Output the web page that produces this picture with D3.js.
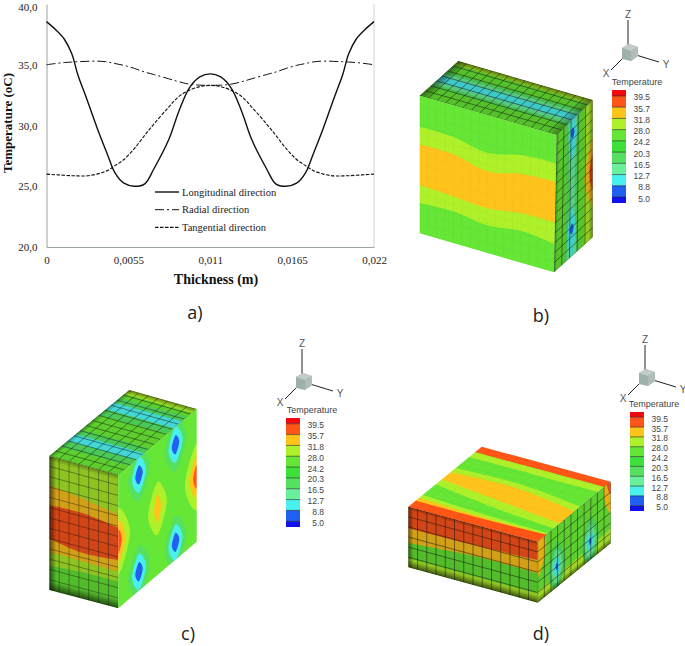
<!DOCTYPE html>
<html>
<head>
<meta charset="utf-8">
<script src="https://cdn.jsdelivr.net/npm/d3@7/dist/d3.min.js"></script>
<style>
	body { margin: 0; background: #fff; }
	svg { display: block; }
</style>
</head>
<body>
<div id="chart"></div>
<script>
// line chart values
var thickness = [0, 0.0006, 0.0012, 0.0017, 0.0021, 0.0027, 0.0034, 0.0041, 0.0046, 0.0052, 0.0059, 0.0066, 0.0072, 0.0082, 0.0089, 0.0096, 0.0103, 0.011, 0.0117, 0.0124, 0.0131, 0.0138, 0.0148, 0.0154, 0.0161, 0.0168, 0.0174, 0.0179, 0.0186, 0.0193, 0.0199, 0.0203, 0.0208, 0.0214, 0.022];
var longitudinal = [38.55, 37.9, 37.1, 35.9, 34.2, 32.2, 29.8, 27.6, 26.1, 25.25, 25, 25.2, 26.4, 28.8, 31.2, 33.1, 34, 34.25, 34, 33.1, 31.2, 28.8, 26.4, 25.2, 25, 25.25, 26.1, 27.6, 29.8, 32.2, 34.2, 35.9, 37.1, 37.9, 38.55];
var radial = [35, 35.1, 35.18, 35.22, 35.25, 35.28, 35.3, 35.23, 35.1, 34.95, 34.7, 34.4, 34.2, 33.85, 33.6, 33.4, 33.32, 33.3, 33.32, 33.4, 33.6, 33.85, 34.2, 34.4, 34.7, 34.95, 35.1, 35.23, 35.3, 35.28, 35.25, 35.22, 35.18, 35.1, 35];
var tangential = [26, 25.95, 25.9, 25.87, 25.85, 25.85, 26, 26.3, 26.7, 27.2, 28.1, 29.2, 30.1, 31.5, 32.4, 32.9, 33.2, 33.3, 33.2, 32.9, 32.4, 31.5, 30.1, 29.2, 28.1, 27.2, 26.7, 26.3, 26, 25.85, 25.85, 25.87, 25.9, 25.95, 26];
var xTicks = [0, 0.0055, 0.011, 0.0165, 0.022];
var xTickLabels = ["0", "0,0055", "0,011", "0,0165", "0,022"];
var yTicks = [20, 25, 30, 35, 40];
var lineNames = ["Longitudinal direction", "Radial direction", "Tangential direction"];

// colour legend
var legendLevels = [39.5, 35.7, 31.8, 28.0, 24.2, 20.3, 16.5, 12.7, 8.8, 5.0];
var legendTemps = [41, 37, 33, 30, 26, 22, 18, 14.6, 10.7, 7, 4];
var bandColors = ["#1010f0", "#2060f0", "#4af0ee", "#68f09a", "#55e060", "#3ee03a", "#66e634", "#aef02a", "#ffc41a", "#ff5518", "#f00a10"];

// temperature bands on the box faces, edges read as fractions of the face
var bFrontStripes = [
	{ t: 30, top: [0.225, 0.228, 0.274, 0.216, 0.206], bot: [0.782, 0.77, 0.8, 0.77, 0.8] },
	{ t: 33, top: [0.354, 0.354, 0.408, 0.354, 0.34], bot: [0.649, 0.66, 0.675, 0.64, 0.638] }
];
var bTopStripes = [
	{ t: 30, top: [0, 0, 0], bot: [0.1, 0.1, 0.1] },
	{ t: 18, top: [0.3, 0.3, 0.3], bot: [0.72, 0.72, 0.72] },
	{ t: 14.6, top: [0.36, 0.36, 0.36], bot: [0.66, 0.66, 0.66] },
	{ t: 10.7, top: [0.43, 0.43, 0.43], bot: [0.58, 0.58, 0.58] }
];
var bRightStripes = [
	{ t: 30, vertical: true, top: [0.78, 0.78, 0.78], bot: [1, 1, 1] },
	{ t: 18, vertical: true, top: [0.26, 0.3, 0.26], bot: [0.64, 0.6, 0.64] },
	{ t: 14.6, vertical: true, top: [0.32, 0.38, 0.32], bot: [0.58, 0.52, 0.58] }
];
var bRightBlobs = [
	{ t: 10.7, u: 0.45, v: 0.12, ru: 0.11, rv: 0.18 },
	{ t: 10.7, u: 0.45, v: 0.82, ru: 0.11, rv: 0.18 },
	{ t: 7, u: 0.45, v: 0.1, ru: 0.05, rv: 0.04 },
	{ t: 7, u: 0.45, v: 0.8, ru: 0.05, rv: 0.04 },
	{ t: 33, u: 1, v: 0.52, ru: 0.22, rv: 0.24 },
	{ t: 37, u: 1, v: 0.52, ru: 0.09, rv: 0.13 }
];
var cFrontStripes = [
	{ t: 26, top: [0.82, 0.8, 0.8], bot: [1, 1, 1] },
	{ t: 33, top: [0.216, 0.25, 0.3], bot: [0.714, 0.72, 0.725] },
	{ t: 37, top: [0.366, 0.36, 0.4], bot: [0.614, 0.657, 0.637] }
];
var cTopStripes = [
	{ t: 30, top: [0, 0, 0], bot: [0.06, 0.06, 0.06] },
	{ t: 18, top: [0.12, 0.12, 0.12], bot: [0.38, 0.38, 0.38] },
	{ t: 10.7, top: [0.19, 0.19, 0.19], bot: [0.29, 0.29, 0.29] },
	{ t: 18, top: [0.6, 0.6, 0.6], bot: [0.86, 0.86, 0.86] },
	{ t: 10.7, top: [0.67, 0.67, 0.67], bot: [0.77, 0.77, 0.77] }
];
var cRightBlobs = [
	{ t: 30, u: 0.5, v: 0.5, ru: 0.12, rv: 0.2 },
	{ t: 33, u: 0.5, v: 0.5, ru: 0.045, rv: 0.105 },
	{ t: 30, u: 1, v: 0.51, ru: 0.15, rv: 0.25 },
	{ t: 33, u: 1, v: 0.51, ru: 0.09, rv: 0.16 },
	{ t: 37, u: 1, v: 0.51, ru: 0.045, rv: 0.09 },
	{ t: 30, u: 0, v: 0.5, ru: 0.15, rv: 0.25 },
	{ t: 33, u: 0, v: 0.5, ru: 0.09, rv: 0.16 },
	{ t: 37, u: 0, v: 0.5, ru: 0.045, rv: 0.09 },
	{ t: 18, u: 0.264, v: 0.13, ru: 0.14, rv: 0.2 },
	{ t: 18, u: 0.73, v: 0.135, ru: 0.14, rv: 0.2 },
	{ t: 18, u: 0.264, v: 0.858, ru: 0.14, rv: 0.2 },
	{ t: 18, u: 0.73, v: 0.87, ru: 0.14, rv: 0.2 },
	{ t: 10.7, u: 0.264, v: 0.13, ru: 0.09, rv: 0.135 },
	{ t: 10.7, u: 0.73, v: 0.135, ru: 0.09, rv: 0.135 },
	{ t: 10.7, u: 0.264, v: 0.858, ru: 0.09, rv: 0.135 },
	{ t: 10.7, u: 0.73, v: 0.87, ru: 0.09, rv: 0.135 },
	{ t: 7, u: 0.264, v: 0.13, ru: 0.048, rv: 0.072 },
	{ t: 7, u: 0.73, v: 0.135, ru: 0.048, rv: 0.072 },
	{ t: 7, u: 0.264, v: 0.858, ru: 0.048, rv: 0.072 },
	{ t: 7, u: 0.73, v: 0.87, ru: 0.048, rv: 0.072 }
];
var dTopStripes = [
	{ t: 37, top: [0, 0, 0], bot: [0.09, 0.09, 0.09] },
	{ t: 30, top: [0.09, 0.09, 0.09], bot: [0.17, 0.17, 0.17] },
	{ t: 30, top: [0.36, 0.34, 0.42], bot: [0.62, 0.72, 0.78] },
	{ t: 33, top: [0.43, 0.4, 0.5], bot: [0.54, 0.62, 0.7] },
	{ t: 30, top: [0.8, 0.84, 0.86], bot: [1, 1, 1] },
	{ t: 33, top: [0.85, 0.88, 0.88], bot: [1, 1, 1] },
	{ t: 37, top: [0.9, 0.9, 0.88], bot: [1, 1, 1] }
];
var dFrontStripes = [
	{ t: 30, top: [0.85, 0.85, 0.85], bot: [1, 1, 1] },
	{ t: 33, top: [0, 0, 0], bot: [0.6, 0.52, 0.52] },
	{ t: 37, top: [0, 0, 0], bot: [0.357, 0.34, 0.3] }
];
var dRightStripes = [
	{ t: 30, top: [0.82, 0.8, 0.76], bot: [1, 1, 1] }
];
var dRightBlobs = [
	{ t: 33, u: 0, v: 0.15, ru: 0.12, rv: 0.45 },
	{ t: 33, u: 1, v: 0.1, ru: 0.1, rv: 0.4 },
	{ t: 37, u: 1, v: 0, ru: 0.05, rv: 0.2 },
	{ t: 18, u: 0.26, v: 0.66, ru: 0.12, rv: 0.4 },
	{ t: 18, u: 0.72, v: 0.7, ru: 0.12, rv: 0.4 },
	{ t: 14.6, u: 0.26, v: 0.66, ru: 0.08, rv: 0.28 },
	{ t: 14.6, u: 0.72, v: 0.7, ru: 0.08, rv: 0.28 },
	{ t: 10.7, u: 0.26, v: 0.66, ru: 0.05, rv: 0.15 },
	{ t: 10.7, u: 0.72, v: 0.7, ru: 0.05, rv: 0.15 },
	{ t: 7, u: 0.26, v: 0.66, ru: 0.015, rv: 0.06 },
	{ t: 7, u: 0.72, v: 0.7, ru: 0.015, rv: 0.06 }
];

var svg = d3.select("#chart").append("svg").attr("width", 685).attr("height", 646);
var defs = svg.append("defs");
defs.append("filter").attr("id", "soft")
	.attr("x", "-5%").attr("y", "-5%").attr("width", "110%").attr("height", "110%")
	.append("feGaussianBlur").attr("stdDeviation", 0.5);

var tempColor = d3.scaleThreshold()
	.domain(legendLevels.slice().reverse())
	.range(bandColors);

// a) line chart
var x = d3.scaleLinear().domain([0, 0.022]).range([46.5, 374]);
var y = d3.scaleLinear().domain([20, 40]).range([247, 4]);
var lineGen = d3.line()
	.x(function(d) { return x(d[0]); })
	.y(function(d) { return y(d[1]); })
	.curve(d3.curveCatmullRom.alpha(0.5));

var axisFont = "'Liberation Serif', serif";
var gx = svg.append("g").attr("transform", "translate(0,247)")
	.call(d3.axisBottom(x).tickValues(xTicks).tickSize(0).tickPadding(9)
		.tickFormat(function(d, i) { return xTickLabels[i]; }));
var gy = svg.append("g").attr("transform", "translate(46.5,0)")
	.call(d3.axisLeft(y).tickValues(yTicks).tickSize(0).tickPadding(9)
		.tickFormat(function(d) { return d.toFixed(1).replace(".", ","); }));
[gx, gy].forEach(function(g) {
	g.selectAll("text").attr("font-family", axisFont).attr("font-size", 11).attr("fill", "#222");
	g.select(".domain").attr("stroke", "#9aa5a3").attr("stroke-width", 1);
});
gy.selectAll("text").filter(function(d) { return d === 40; }).attr("dy", "0.62em");
svg.append("line").attr("x1", x(0.022)).attr("x2", x(0.022)).attr("y1", y(40)).attr("y2", y(20))
	.attr("stroke", "#c4cccb").attr("stroke-width", 0.8);

var lineStyles = [
	{ vals: longitudinal, w: 1.4, dash: null },
	{ vals: radial, w: 1, dash: "9,3,2,3" },
	{ vals: tangential, w: 1.1, dash: "3.5,1.5" }
];
lineStyles.forEach(function(s, i) {
	svg.append("path")
		.datum(thickness.map(function(t, k) { return [t, s.vals[k]]; }))
		.attr("d", lineGen)
		.attr("fill", "none")
		.attr("stroke", "#111")
		.attr("stroke-width", s.w)
		.attr("stroke-dasharray", s.dash);
	var ly = 192 + i * 17.7;
	svg.append("line").attr("x1", 155).attr("x2", 179).attr("y1", ly).attr("y2", ly)
		.attr("stroke", "#111").attr("stroke-width", s.w).attr("stroke-dasharray", s.dash);
	svg.append("text").attr("x", 182).attr("y", ly + 3.5).text(lineNames[i])
		.attr("font-family", axisFont).attr("font-size", 10.5).attr("fill", "#222");
});
svg.append("text").attr("x", 216).attr("y", 284).attr("text-anchor", "middle").text("Thickness (m)")
	.attr("font-family", axisFont).attr("font-size", 14).attr("font-weight", "bold").attr("fill", "#111");
svg.append("text").attr("transform", "translate(12,123) rotate(-90)").attr("text-anchor", "middle").text("Temperature (oC)")
	.attr("font-family", axisFont).attr("font-size", 13).attr("font-weight", "bold").attr("fill", "#111");

// panel letters
[["a)", 195, 319], ["b)", 541, 322], ["c)", 188, 640], ["d)", 541, 640]].forEach(function(p) {
	svg.append("text").attr("x", p[1]).attr("y", p[2]).attr("text-anchor", "middle").text(p[0])
		.attr("font-family", "'Open Sans', sans-serif").attr("font-size", 18).attr("fill", "#222");
});

// box faces
var faceCount = 0;
var unit = d3.scaleLinear().domain([0, 1]);

function faceMap(c) {
	// c = top left, top right, bottom right, bottom left
	return function(u, v) {
		var tx = unit.copy().range([c[0][0], c[1][0]])(u), ty = unit.copy().range([c[0][1], c[1][1]])(u);
		var bx = unit.copy().range([c[3][0], c[2][0]])(u), by = unit.copy().range([c[3][1], c[2][1]])(u);
		return [unit.copy().range([tx, bx])(v), unit.copy().range([ty, by])(v)];
	};
}

function drawFace(f) {
	var map = faceMap(f.corners);
	var id = "face" + (faceCount++);
	defs.append("clipPath").attr("id", id).append("polygon").attr("points", f.corners.join(" "));
	var outer = svg.append("g").attr("clip-path", "url(#" + id + ")");
	var g = outer.append("g").attr("filter", "url(#soft)");
	g.append("polygon").attr("points", map(-0.05, -0.05) + " " + map(1.05, -0.05) + " " + map(1.05, 1.05) + " " + map(-0.05, 1.05)).attr("fill", tempColor(f.base));

	var curved = d3.line().curve(d3.curveCatmullRom.alpha(0.5));
	(f.stripes || []).forEach(function(s) {
		var pos = d3.scaleLinear().domain([0, s.top.length - 1]).range([-0.02, 1.02]);
		var pt = s.vertical ? function(a, b) { return map(b, a); } : map;
		var topEdge = s.top.map(function(v, i) { return pt(pos(i), v === 0 ? -0.04 : v); });
		var botEdge = s.bot.map(function(v, i) { return pt(pos(i), v === 1 ? 1.04 : v); }).reverse();
		g.append("path")
			.attr("d", curved(topEdge) + "L" + curved(botEdge).slice(1) + "Z")
			.attr("fill", tempColor(s.t));
	});
	var closed = d3.line().curve(d3.curveCardinalClosed.tension(0.1));
	(f.blobs || []).forEach(function(b) {
		g.append("path")
			.attr("d", closed([map(b.u, b.v - b.rv), map(b.u + b.ru, b.v), map(b.u, b.v + b.rv), map(b.u - b.ru, b.v)]))
			.attr("fill", tempColor(b.t));
	});
	if (f.dim) {
		g.append("polygon").attr("points", f.corners.join(" ")).attr("fill", "#000").attr("opacity", f.dim);
	}
	// darker rims where the surface turns away
	(f.rims || []).forEach(function(r, i) {
		var a, b, strip, e;
		var w = r.w;
		if (r.side === "left") { a = map(0, 0.5); b = map(w, 0.5); e = [map(0, 0), map(0, 1)]; strip = [map(0, 0), map(w, 0), map(w, 1), map(0, 1)]; }
		if (r.side === "right") { a = map(1, 0.5); b = map(1 - w, 0.5); e = [map(1, 0), map(1, 1)]; strip = [map(1, 0), map(1 - w, 0), map(1 - w, 1), map(1, 1)]; }
		if (r.side === "top") { a = map(0.5, 0); b = map(0.5, w); e = [map(0, 0), map(1, 0)]; strip = [map(0, 0), map(1, 0), map(1, w), map(0, w)]; }
		if (r.side === "bottom") { a = map(0.5, 1); b = map(0.5, 1 - w); e = [map(0, 1), map(1, 1)]; strip = [map(0, 1), map(1, 1), map(1, 1 - w), map(0, 1 - w)]; }
		// gradient axis square to the edge
		var ex = e[1][0] - e[0][0], ey = e[1][1] - e[0][1];
		var k = ((b[0] - a[0]) * ex + (b[1] - a[1]) * ey) / (ex * ex + ey * ey);
		var gid = id + "r" + i;
		var grad = defs.append("linearGradient").attr("id", gid).attr("gradientUnits", "userSpaceOnUse")
			.attr("x1", a[0]).attr("y1", a[1]).attr("x2", b[0] - k * ex).attr("y2", b[1] - k * ey);
		grad.append("stop").attr("offset", 0).attr("stop-color", "#000").attr("stop-opacity", r.op);
		grad.append("stop").attr("offset", 1).attr("stop-color", "#000").attr("stop-opacity", 0);
		g.append("polygon").attr("points", strip.join(" ")).attr("fill", "url(#" + gid + ")");
	});
	// mesh
	if (f.mesh) {
		var meshPath = d3.path();
		d3.range(0, f.mesh[0] + 1).forEach(function(i) {
			var p0 = map(i / f.mesh[0], 0), p1 = map(i / f.mesh[0], 1);
			meshPath.moveTo(p0[0], p0[1]); meshPath.lineTo(p1[0], p1[1]);
		});
		d3.range(0, f.mesh[1] + 1).forEach(function(i) {
			var p0 = map(0, i / f.mesh[1]), p1 = map(1, i / f.mesh[1]);
			meshPath.moveTo(p0[0], p0[1]); meshPath.lineTo(p1[0], p1[1]);
		});
		outer.append("path").attr("d", meshPath.toString()).attr("fill", "none")
			.attr("stroke", "#111").attr("stroke-width", 0.7).attr("stroke-opacity", f.meshOp);
	}
}

var faces = [
	// box b
	{ corners: [[458.3, 61], [592.7, 100], [556.7, 135], [419.7, 95.7]], base: 26, stripes: bTopStripes, dim: 0.16, mesh: [16, 7], meshOp: 0.7,
		rims: [{ side: "left", w: 0.08, op: 0.45 }, { side: "top", w: 0.12, op: 0.4 }, { side: "right", w: 0.08, op: 0.3 }] },
	{ corners: [[419.7, 95.7], [556.7, 135], [554, 272.3], [419.7, 233.3]], base: 26, stripes: bFrontStripes, mesh: [16, 14], meshOp: 0.04 },
	{ corners: [[556.7, 135], [592.7, 100], [592.7, 237.3], [554, 272.3]], base: 26, stripes: bRightStripes, blobs: bRightBlobs, dim: 0.14, mesh: [5, 14], meshOp: 0.7,
		rims: [{ side: "right", w: 0.12, op: 0.35 }, { side: "left", w: 0.08, op: 0.3 }] },
	// box c
	{ corners: [[129.3, 390], [196.7, 409], [118.3, 475], [49.3, 456]], base: 26, stripes: cTopStripes, dim: 0.1, mesh: [7, 13], meshOp: 0.65,
		rims: [{ side: "left", w: 0.07, op: 0.35 }, { side: "top", w: 0.05, op: 0.4 }] },
	{ corners: [[49.3, 456], [118.3, 475], [118.3, 608.3], [49.3, 590]], base: 30, stripes: cFrontStripes, dim: 0.18, mesh: [7, 13], meshOp: 0.55,
		rims: [{ side: "left", w: 0.1, op: 0.6 }, { side: "bottom", w: 0.07, op: 0.6 }, { side: "top", w: 0.04, op: 0.3 }] },
	{ corners: [[118.3, 475], [196.7, 409], [196.7, 541.7], [118.3, 608.3]], base: 26, blobs: cRightBlobs },
	// box d
	{ corners: [[481.7, 446.7], [610.7, 481.7], [537.7, 541.7], [408.3, 506.7]], base: 26, stripes: dTopStripes, mesh: [14, 10], meshOp: 0.04 },
	{ corners: [[408.3, 506.7], [537.7, 541.7], [537.7, 602.7], [408.3, 567.3]], base: 26, stripes: dFrontStripes, dim: 0.18, mesh: [14, 6], meshOp: 0.7,
		rims: [{ side: "bottom", w: 0.12, op: 0.6 }, { side: "top", w: 0.06, op: 0.35 }, { side: "left", w: 0.04, op: 0.5 }] },
	{ corners: [[537.7, 541.7], [610.7, 481.7], [610.7, 543.3], [537.7, 602.7]], base: 26, stripes: dRightStripes, blobs: dRightBlobs, dim: 0.1, mesh: [11, 6], meshOp: 0.7,
		rims: [{ side: "bottom", w: 0.1, op: 0.5 }] }
];
faces.forEach(drawFace);

// orientation triad and legend next to each box
function triad(cx, cy) {
	var g = svg.append("g").attr("transform", "translate(" + cx + "," + cy + ")");
	var axes = [[-2, -8, -2, -33], [-7, 5, -19, 17], [6, 2, 29, 9]];
	axes.forEach(function(a) {
		g.append("line").attr("x1", a[0]).attr("y1", a[1]).attr("x2", a[2]).attr("y2", a[3]).attr("stroke", "#222").attr("stroke-width", 1);
	});
	g.append("polygon").attr("points", "-8,-5 -1,-9 8,-6 8,3 1,8 -8,6").attr("fill", "#9fb0ac");
	g.append("polygon").attr("points", "-8,-5 -1,-9 8,-6 1,-2").attr("fill", "#c2ccc9");
	g.append("polygon").attr("points", "1,-2 8,-6 8,3 1,8").attr("fill", "#b0bdb9");
	[["Z", -2, -35], ["X", -24, 24], ["Y", 36, 15]].forEach(function(l) {
		g.append("text").attr("x", l[1]).attr("y", l[2]).attr("text-anchor", "middle").text(l[0])
			.attr("font-family", "'Liberation Sans', sans-serif").attr("font-size", 10).attr("fill", "#555");
	});
}

function legend(x0, top, bottom, titleX, titleY) {
	var ls = d3.scalePoint().domain(legendLevels).range([top + (bottom - top) * 0.053, bottom - (bottom - top) * 0.053]);
	var step = ls.step();
	var g = svg.append("g");
	g.selectAll("rect").data(legendTemps).enter().append("rect")
		.attr("x", x0)
		.attr("y", function(d, i) { return i === 0 ? top : ls(legendLevels[i - 1]); })
		.attr("width", 14)
		.attr("height", function(d, i) {
			if (i === 0) { return ls(legendLevels[0]) - top; }
			if (i === legendLevels.length) { return bottom - ls(legendLevels[i - 1]); }
			return step;
		})
		.attr("fill", function(d) { return tempColor(d); });
	g.selectAll("line").data(legendLevels).enter().append("line")
		.attr("x1", x0).attr("x2", x0 + 14)
		.attr("y1", function(d) { return ls(d); }).attr("y2", function(d) { return ls(d); })
		.attr("stroke", "#222").attr("stroke-width", 0.6);
	g.selectAll("text.lev").data(legendLevels).enter().append("text")
		.attr("class", "lev")
		.attr("x", x0 + 38).attr("y", function(d) { return ls(d) + 4.5; })
		.attr("text-anchor", "end")
		.text(function(d) { return d.toFixed(1); })
		.attr("font-family", "'Liberation Sans', sans-serif").attr("font-size", 8.5).attr("fill", "#444");
	g.append("text").attr("x", titleX).attr("y", titleY).attr("text-anchor", "middle").text("Temperature")
		.attr("font-family", "'Liberation Sans', sans-serif").attr("font-size", 9).attr("fill", "#444");
}

triad(630, 53);
legend(612, 90, 203, 637, 85);
triad(304, 382);
legend(286, 418, 527, 312, 413);
triad(647, 378);
legend(630, 412, 511, 654, 407);
</script>
</body>
</html>
